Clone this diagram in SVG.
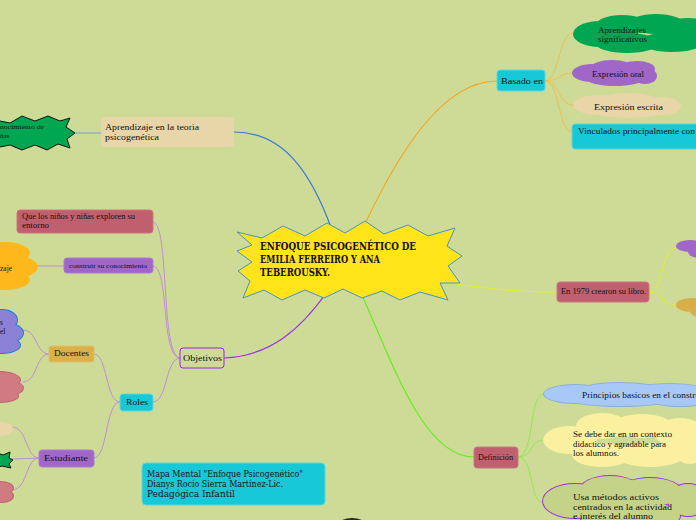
<svg xmlns="http://www.w3.org/2000/svg" width="696" height="520" viewBox="0 0 696 520">
<style>
.t{font-family:"Liberation Serif","DejaVu Serif",serif;fill:#111;}
.s{font-family:"DejaVu Serif","Liberation Serif",serif;fill:#111;}
.cy{fill:#17c8d6;stroke:#5ad8e2;stroke-width:1;}
.pk{fill:#c0606e;stroke:#cc7480;stroke-width:1;}
.pu{fill:#a066c8;stroke:#b07ad4;stroke-width:1;}
.c{fill:none;stroke-linecap:round;}
</style>
<rect width="696" height="520" fill="#cddb96"/>
<g id="connectors">
  <path class="c" d="M363,228 C395,160 440,81 497,81" stroke="#f5a623" stroke-width="1.2"/>
  <g stroke="#f0bc4a" stroke-width="0.9">
    <path class="c" d="M545,81 C560,81 558,33 573,33"/>
    <path class="c" d="M545,81 C560,81 558,73 573,73"/>
    <path class="c" d="M545,81 C560,81 558,105 573,105"/>
    <path class="c" d="M545,81 C560,81 558,132 572,132"/>
  </g>
  <path class="c" d="M234,132 C285,132 312,175 332,230" stroke="#3a78d8" stroke-width="1.2"/>
  <path class="c" d="M75,133 L101,133" stroke="#7c9ad6" stroke-width="1"/>
  <path class="c" d="M455,284 C500,290 520,292 557,292" stroke="#e2ee30" stroke-width="1.2"/>
  <g stroke="#e2ee30" stroke-width="1">
    <path class="c" d="M649,292 C665,292 660,248 676,248"/>
    <path class="c" d="M649,292 C665,292 660,305 676,305"/>
  </g>
  <path class="c" d="M362,295 C395,370 425,457 474,457" stroke="#66ee22" stroke-width="1.2"/>
  <g stroke="#8ee84a" stroke-width="0.9">
    <path class="c" d="M518,457 C535,457 528,394 544,394"/>
    <path class="c" d="M518,457 C535,457 528,440 544,440"/>
    <path class="c" d="M518,457 C535,457 528,503 544,503"/>
  </g>
  <path class="c" d="M224,358 C270,356 300,330 327,292" stroke="#9b30e8" stroke-width="1.2"/>
  <g stroke="#c08ed8" stroke-width="1">
    <path class="c" d="M180,358 C160,358 170,222 153,222"/>
    <path class="c" d="M180,358 C160,358 170,266 153,266"/>
    <path class="c" d="M180,358 C165,358 168,402 153,402"/>
    <path class="c" d="M64,266 L38,266"/>
    <path class="c" d="M120,402 C105,402 108,354 94,354"/>
    <path class="c" d="M120,402 C105,402 108,458 94,458"/>
    <path class="c" d="M49,354 C35,354 38,330 23,330"/>
    <path class="c" d="M49,354 C35,354 38,382 23,382"/>
    <path class="c" d="M39,458 C25,458 28,427 12,427"/>
    <path class="c" d="M39,458 L13,459"/>
    <path class="c" d="M39,458 C25,458 28,490 12,490"/>
  </g>
</g>

<g id="center">
  <polygon points="237,232 262,238 283,226 305,236 327,223 345,233 365,221 384,234 408,225 428,236 455,228 447,246 462,256 448,266 460,283 440,283 448,300 420,292 400,300 382,291 362,298 343,289 324,298 305,290 282,300 264,290 243,298 250,281 238,271 252,262 237,251 252,245" fill="#ffe41a" stroke="#4a90c8" stroke-width="1"/>
  <g class="s" font-size="11" font-weight="bold">
    <text x="260" y="250" textLength="156" lengthAdjust="spacingAndGlyphs">ENFOQUE PSICOGENÉTICO DE</text>
    <text x="260" y="263" textLength="120" lengthAdjust="spacingAndGlyphs">EMILIA FERREIRO Y ANA</text>
    <text x="260" y="276" textLength="70" lengthAdjust="spacingAndGlyphs">TEBEROUSKY.</text>
  </g>
</g>

<g id="aprendizaje-teoria">
  <rect x="101" y="117" width="133" height="30" rx="4" fill="#e8d5a8"/>
  <text class="t" x="105" y="130" font-size="8.5" textLength="94" lengthAdjust="spacingAndGlyphs">Aprendizaje en la teoria</text>
  <text class="t" x="105" y="140" font-size="8.5" textLength="54" lengthAdjust="spacingAndGlyphs">psicogenética</text>
</g>
<g id="conocimiento">
  <polygon points="-5,120 10,123 22,116 35,121 48,116 60,121 70,118 66,127 75,133 67,139 70,148 58,144 47,150 35,145 22,150 10,145 -5,148" fill="#00a651" stroke="#111" stroke-width="1"/>
  <text class="t" x="0" y="129" font-size="7" textLength="44" lengthAdjust="spacingAndGlyphs">nocimiento de</text>
  <text class="t" x="0" y="138" font-size="7">ñas</text>
</g>

<g id="basado-en">
  <rect class="cy" x="497" y="70" width="48" height="21" rx="3"/>
  <text class="t" x="501" y="84" font-size="9" textLength="42" lengthAdjust="spacingAndGlyphs">Basado en</text>
</g>
<g id="aprendizajes-significativos">
  <g fill="#00a651">
    <ellipse cx="600" cy="34" rx="27" ry="13"/>
    <ellipse cx="622" cy="25" rx="26" ry="10"/>
    <ellipse cx="656" cy="24" rx="28" ry="10"/>
    <ellipse cx="688" cy="29" rx="25" ry="11"/>
    <ellipse cx="627" cy="43" rx="32" ry="10"/>
    <ellipse cx="672" cy="42" rx="32" ry="10"/>
  </g>
  <text class="t" x="598" y="33" font-size="8" textLength="48" lengthAdjust="spacingAndGlyphs">Aprendizajes</text>
  <text class="t" x="598" y="42" font-size="8" textLength="49" lengthAdjust="spacingAndGlyphs">significativos</text>
</g>
<g id="expresion-oral">
  <g fill="#a066c8">
    <ellipse cx="592" cy="73" rx="20" ry="9"/>
    <ellipse cx="612" cy="67" rx="20" ry="7"/>
    <ellipse cx="637" cy="69" rx="18" ry="8"/>
    <ellipse cx="645" cy="76" rx="12" ry="8"/>
    <ellipse cx="615" cy="79" rx="28" ry="7"/>
  </g>
  <text class="t" x="592" y="77" font-size="8" textLength="52" lengthAdjust="spacingAndGlyphs">Expresión oral</text>
</g>
<g id="expresion-escrita">
  <g fill="#e8d5a8">
    <ellipse cx="598" cy="105" rx="25" ry="10"/>
    <ellipse cx="628" cy="101" rx="30" ry="8"/>
    <ellipse cx="662" cy="106" rx="19" ry="9"/>
    <ellipse cx="628" cy="112" rx="35" ry="6"/>
  </g>
  <text class="t" x="594" y="110" font-size="8" textLength="69" lengthAdjust="spacingAndGlyphs">Expresión escrita</text>
</g>
<g id="vinculados">
  <rect class="cy" x="572" y="124" width="130" height="25" rx="3"/>
  <text class="t" x="578" y="134" font-size="8" textLength="122" lengthAdjust="spacingAndGlyphs">Vinculados principalmente con l</text>
</g>

<g id="en-1979">
  <rect class="pk" x="557" y="282" width="92" height="20" rx="3"/>
  <text class="t" x="561" y="294" font-size="8" textLength="85" lengthAdjust="spacingAndGlyphs">En 1979 crearon su libro.</text>
</g>
<g id="right-cloud-1">
  <ellipse cx="690" cy="246" rx="14" ry="6" fill="#a066c8"/>
  <ellipse cx="700" cy="252" rx="12" ry="6" fill="#a066c8"/>
</g>
<g id="right-cloud-2">
  <ellipse cx="692" cy="305" rx="16" ry="7" fill="#d8ae48"/>
  <ellipse cx="700" cy="311" rx="10" ry="6" fill="#d8ae48"/>
</g>

<g id="definicion">
  <rect class="pk" x="474" y="447" width="44" height="21" rx="3"/>
  <text class="t" x="478" y="460" font-size="7.5" textLength="35" lengthAdjust="spacingAndGlyphs">Definición</text>
</g>
<g id="principios">
  <g fill="#8ab0e0">
    <ellipse cx="575" cy="394" rx="32" ry="10"/>
    <ellipse cx="620" cy="390" rx="40" ry="8"/>
    <ellipse cx="670" cy="392" rx="40" ry="9"/>
    <ellipse cx="620" cy="400" rx="50" ry="7"/>
    <ellipse cx="680" cy="400" rx="30" ry="7"/>
  </g>
  <g fill="#a8c8f8">
    <ellipse cx="575" cy="394" rx="31" ry="9"/>
    <ellipse cx="620" cy="390" rx="39" ry="7"/>
    <ellipse cx="670" cy="392" rx="39" ry="8"/>
    <ellipse cx="620" cy="400" rx="49" ry="6"/>
    <ellipse cx="680" cy="400" rx="29" ry="6"/>
  </g>
  <text class="t" x="582" y="398" font-size="8" textLength="118" lengthAdjust="spacingAndGlyphs">Principios basicos en el constru</text>
</g>
<g id="contexto">
  <g fill="#faf0a0">
    <ellipse cx="570" cy="440" rx="27" ry="14"/>
    <ellipse cx="602" cy="426" rx="26" ry="13"/>
    <ellipse cx="642" cy="426" rx="30" ry="12"/>
    <ellipse cx="680" cy="433" rx="25" ry="15"/>
    <ellipse cx="602" cy="455" rx="30" ry="12"/>
    <ellipse cx="650" cy="455" rx="35" ry="12"/>
    <ellipse cx="690" cy="452" rx="15" ry="12"/>
  </g>
  <text class="t" x="573" y="437" font-size="8" textLength="99" lengthAdjust="spacingAndGlyphs">Se debe dar en un contexto</text>
  <text class="t" x="573" y="447" font-size="8" textLength="93" lengthAdjust="spacingAndGlyphs">didactico y agradable para</text>
  <text class="t" x="573" y="456" font-size="8" textLength="46" lengthAdjust="spacingAndGlyphs">los alumnos.</text>
</g>
<g id="metodos">
  <g fill="#a030e8">
    <ellipse cx="575" cy="501" rx="33" ry="18"/>
    <ellipse cx="610" cy="490" rx="31" ry="15"/>
    <ellipse cx="650" cy="492" rx="33" ry="15"/>
    <ellipse cx="688" cy="500" rx="21" ry="17"/>
    <ellipse cx="630" cy="516" rx="51" ry="17"/>
  </g>
  <g fill="#c5d388">
    <ellipse cx="575" cy="501" rx="32" ry="17"/>
    <ellipse cx="610" cy="490" rx="30" ry="14"/>
    <ellipse cx="650" cy="492" rx="32" ry="14"/>
    <ellipse cx="688" cy="500" rx="20" ry="16"/>
    <ellipse cx="630" cy="516" rx="50" ry="16"/>
  </g>
  <text class="t" x="573" y="500" font-size="8" textLength="86" lengthAdjust="spacingAndGlyphs">Usa métodos  activos</text>
  <text class="t" x="573" y="510" font-size="8" textLength="99" lengthAdjust="spacingAndGlyphs">centrados en la actividad</text>
  <text class="t" x="573" y="519" font-size="8" textLength="80" lengthAdjust="spacingAndGlyphs">e interés del alumno</text>
</g>

<g id="objetivos">
  <rect x="180" y="348" width="44" height="20" rx="3" fill="#cddb96" stroke="#a020f0" stroke-width="1"/>
  <text class="t" x="183" y="361" font-size="8.5" textLength="39" lengthAdjust="spacingAndGlyphs">Objetivos</text>
</g>
<g id="exploren">
  <rect class="pk" x="17" y="210" width="136" height="23" rx="3"/>
  <text class="t" x="22" y="219" font-size="7.5" textLength="113" lengthAdjust="spacingAndGlyphs">Que los niños y niñas exploren su</text>
  <text class="t" x="22" y="228" font-size="7.5" textLength="27" lengthAdjust="spacingAndGlyphs">entorno</text>
</g>
<g id="construir">
  <rect class="pu" x="64" y="258" width="89" height="15" rx="3"/>
  <text class="t" x="69" y="268" font-size="6" textLength="78" lengthAdjust="spacingAndGlyphs">construir su conocimiento</text>
</g>
<g id="orange-cloud">
  <g fill="#ffb81c">
    <ellipse cx="5" cy="253" rx="25" ry="11"/>
    <ellipse cx="10" cy="267" rx="28" ry="12"/>
    <ellipse cx="5" cy="280" rx="25" ry="10"/>
  </g>
  <text class="t" x="0" y="271" font-size="7.5">zaje</text>
</g>
<g id="roles">
  <rect class="cy" x="120" y="394" width="33" height="17" rx="3"/>
  <text class="t" x="126" y="405" font-size="8.5" textLength="22" lengthAdjust="spacingAndGlyphs">Roles</text>
</g>
<g id="docentes">
  <rect x="49" y="346" width="45" height="16" rx="2" fill="#d9b04a" stroke="#e4c060" stroke-width="1"/>
  <text class="t" x="54" y="356" font-size="7.5" textLength="35" lengthAdjust="spacingAndGlyphs">Docentes</text>
</g>
<g id="docentes-cloud-1">
  <g fill="#1a80cc">
    <ellipse cx="2" cy="320" rx="16" ry="11"/>
    <ellipse cx="5" cy="333" rx="19" ry="11"/>
    <ellipse cx="2" cy="345" rx="19" ry="9"/>
  </g>
  <g fill="#8a80d6">
    <ellipse cx="2" cy="320" rx="15" ry="10"/>
    <ellipse cx="5" cy="333" rx="18" ry="10"/>
    <ellipse cx="2" cy="345" rx="18" ry="8"/>
  </g>
  <text class="t" x="0" y="325" font-size="7.5">s</text>
  <text class="t" x="0" y="334" font-size="7.5">el</text>
</g>
<g id="docentes-cloud-2">
  <g fill="#c06070">
    <ellipse cx="0" cy="380" rx="21" ry="9"/>
    <ellipse cx="3" cy="388" rx="21" ry="9"/>
    <ellipse cx="0" cy="396" rx="19" ry="7"/>
  </g>
  <g fill="#d07a82">
    <ellipse cx="0" cy="380" rx="20" ry="8"/>
    <ellipse cx="3" cy="388" rx="20" ry="8"/>
    <ellipse cx="0" cy="396" rx="18" ry="6"/>
  </g>
</g>
<g id="estudiante">
  <rect class="pu" x="39" y="450" width="55" height="17" rx="3"/>
  <text class="t" x="44" y="461" font-size="8.5" textLength="44" lengthAdjust="spacingAndGlyphs">Estudiante</text>
</g>
<g id="estudiante-cloud-1">
  <ellipse cx="0" cy="429" rx="13" ry="7" fill="#e8d5a8"/>
</g>
<g id="estudiante-star">
  <polygon points="-5,452 3,455 10,452 9,458 13,460 9,464 11,468 2,466 -5,468" fill="#00a651" stroke="#111" stroke-width="1"/>
</g>
<g id="estudiante-cloud-2">
  <g fill="#c06070">
    <ellipse cx="0" cy="488" rx="14" ry="7"/>
    <ellipse cx="2" cy="496" rx="12" ry="7"/>
  </g>
  <g fill="#d07a82">
    <ellipse cx="0" cy="488" rx="13" ry="6"/>
    <ellipse cx="2" cy="496" rx="11" ry="6"/>
  </g>
</g>

<g id="mapa-mental">
  <rect class="cy" x="142" y="463" width="183" height="42" rx="4"/>
  <g class="s" font-size="9">
    <text x="147" y="477" textLength="156" lengthAdjust="spacingAndGlyphs">Mapa Mental "Enfoque Psicogenético"</text>
    <text x="147" y="487" textLength="136" lengthAdjust="spacingAndGlyphs">Dianys Rocío Sierra Martínez-Lic.</text>
    <text x="147" y="497" textLength="88" lengthAdjust="spacingAndGlyphs">Pedagógica Infantil</text>
  </g>
</g>
<g id="bottom-shape">
  <ellipse cx="352" cy="524" rx="13" ry="6" fill="#2a2a2a"/>
</g>
</svg>
